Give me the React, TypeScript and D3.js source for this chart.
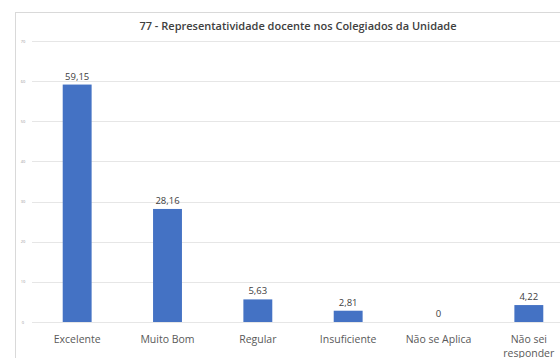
import React, { useEffect, useRef } from 'react';
import * as d3 from 'd3';

const categories = ['Excelente', 'Muito Bom', 'Regular', 'Insuficiente', 'Não se Aplica', 'Não sei responder'];
const values = [59.15, 28.16, 5.63, 2.81, 0, 4.22];
const yTicks = [0, 10, 20, 30, 40, 50, 60, 70];
const title = '77 - Representatividade docente nos Colegiados da Unidade';

const W = 560;
const H = 358;

const App: React.FC = () => {
  const svgRef = useRef<SVGSVGElement>(null);

  useEffect(() => {
    const svg = d3.select(svgRef.current);
    svg.selectAll('*').remove();

    const font = "'Open Sans', sans-serif";

    // chart frame (cropped on right and bottom)
    svg.append('rect')
      .attr('x', 15.5)
      .attr('y', 12.5)
      .attr('width', 600)
      .attr('height', 400)
      .attr('fill', '#fff')
      .attr('stroke', '#d9d9d9');

    const plot = { left: 32, right: 574, top: 41, bottom: 322 };

    const x = d3.scaleBand<string>()
      .domain(categories)
      .range([plot.left, plot.right])
      .paddingInner(0.68)
      .paddingOuter(0.34);

    const y = d3.scaleLinear()
      .domain([0, 70])
      .range([plot.bottom, plot.top]);

    // gridlines
    svg.append('g')
      .selectAll('line')
      .data(yTicks)
      .enter()
      .append('line')
      .attr('x1', plot.left)
      .attr('x2', W)
      .attr('y1', d => Math.round(y(d)) + 0.5)
      .attr('y2', d => Math.round(y(d)) + 0.5)
      .attr('stroke', '#e6e6e6')
      .attr('stroke-width', 1);

    // tick labels
    svg.append('g')
      .selectAll('text')
      .data(yTicks)
      .enter()
      .append('text')
      .attr('x', 23)
      .attr('y', d => y(d) + 1.5)
      .attr('text-anchor', 'middle')
      .style('font-family', font)
      .style('font-size', '4px')
      .style('fill', '#999')
      .text(d => String(d));

    // bars
    svg.append('g')
      .selectAll('rect')
      .data(values)
      .enter()
      .append('rect')
      .attr('x', (_, i) => x(categories[i]) as number)
      .attr('y', d => y(d))
      .attr('width', x.bandwidth())
      .attr('height', d => y(0) - y(d))
      .attr('fill', '#4472c4');

    // value labels
    svg.append('g')
      .selectAll('text')
      .data(values)
      .enter()
      .append('text')
      .attr('x', (_, i) => (x(categories[i]) as number) + x.bandwidth() / 2)
      .attr('y', d => y(d) - 5)
      .attr('text-anchor', 'middle')
      .style('font-family', font)
      .style('font-size', '9.5px')
      .style('fill', '#404040')
      .text(d => d3.format('')(d).replace('.', ','));

    // category labels
    const cat = svg.append('g')
      .selectAll('text')
      .data(categories)
      .enter()
      .append('text')
      .attr('x', d => (x(d) as number) + x.bandwidth() / 2)
      .attr('y', 343)
      .attr('text-anchor', 'middle')
      .style('font-family', font)
      .style('font-size', '10.5px')
      .style('fill', '#595959');

    cat.each(function (d) {
      const t = d3.select(this);
      const parts = d === 'Não sei responder' ? ['Não sei', 'responder'] : [d];
      parts.forEach((p, i) => {
        t.append('tspan')
          .attr('x', t.attr('x'))
          .attr('dy', i === 0 ? 0 : 14)
          .text(p);
      });
    });

    // title
    svg.append('text')
      .attr('x', 298)
      .attr('y', 30)
      .attr('text-anchor', 'middle')
      .style('font-family', font)
      .style('font-size', '11px')
      .style('font-weight', 600)
      .style('fill', '#404040')
      .text(title);
  }, []);

  return (
    <svg
      ref={svgRef}
      width={W}
      height={H}
      style={{ position: 'fixed', left: 0, top: 0, background: '#fff', display: 'block' }}
    />
  );
};

export default App;
